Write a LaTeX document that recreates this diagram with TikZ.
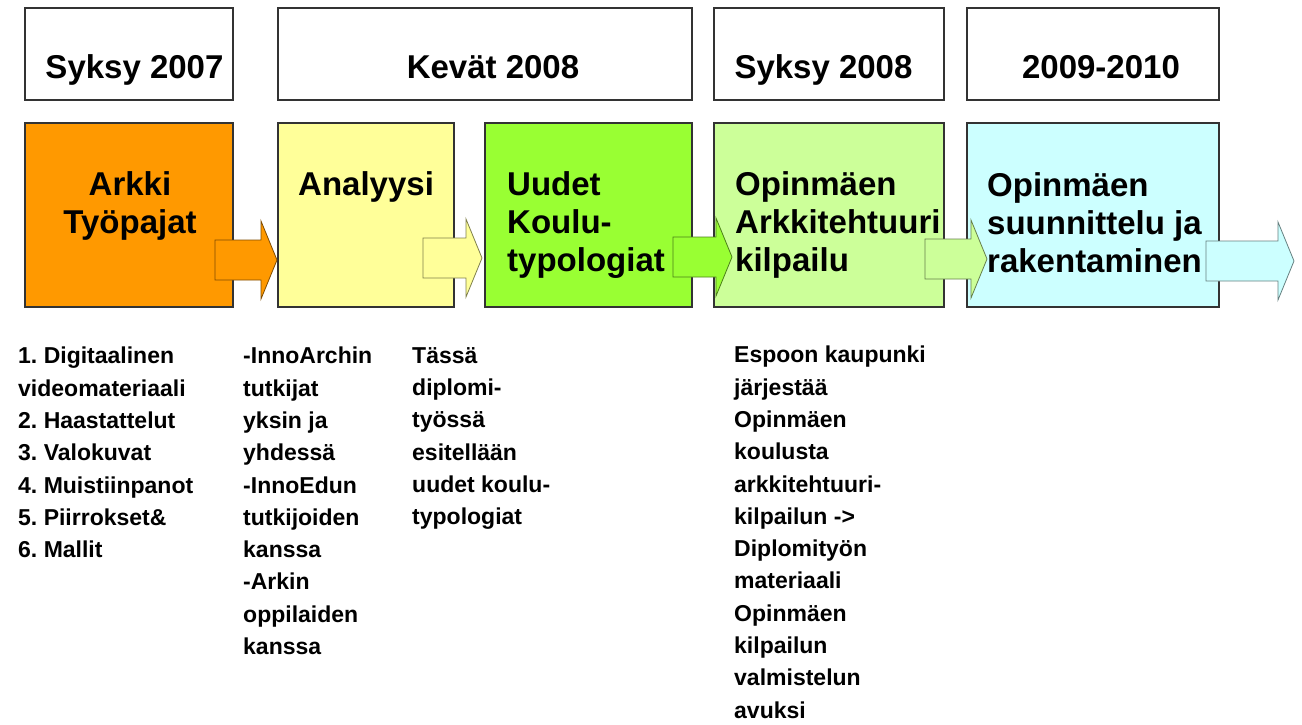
\documentclass[tikz,border=0pt]{standalone}
\usepackage{fontspec}
\setmainfont{Liberation Sans}
\usetikzlibrary{calc}
\frenchspacing
\definecolor{arkki}{HTML}{FF9900}
\definecolor{analyysi}{HTML}{FFFF99}
\definecolor{uudet}{HTML}{99FF33}
\definecolor{kilpailu}{HTML}{CCFF99}
\definecolor{rakennus}{HTML}{CCFFFF}
\definecolor{frame}{rgb}{0.2,0.2,0.2}
\newcommand{\flowarrow}[3]{\draw[flow, fill=#3, draw=#3!50!black] let \p1=(#1), \p2=(#2) in (\x1,\y1+20pt) -- (\x2-16pt,\y1+20pt) -- (\x2-16pt,\y1+39pt) -- (\x2,\y1) -- (\x2-16pt,\y1-39pt) -- (\x2-16pt,\y1-20pt) -- (\x1,\y1-20pt) -- cycle;}

\begin{document}
\begin{tikzpicture}[x=1pt, y=-1pt, period/.style = {shape=rectangle, draw=frame, line width=1.6pt, fill=white, inner sep=0pt, minimum height=92pt}, phase/.style = {shape=rectangle, draw=frame, line width=1.6pt, inner sep=0pt, minimum height=184pt}, flow/.style = {line width=0.8pt, line join=miter}, heading/.style = {anchor=base, inner sep=0pt, font=\bfseries\fontsize{33}{38}\selectfont}, phasetext/.style = {anchor=north west, inner sep=0pt, align=left, font=\bfseries\fontsize{33}{38}\selectfont}, notes/.style = {anchor=north west, inner sep=0pt, align=left, font=\bfseries\fontsize{23}{32.3}\selectfont}]
	\useasboundingbox (0,0) rectangle (1302,724);
	\node[period, minimum width=208pt] (syksy7) at (129,54) {};
	\node[period, minimum width=414pt] (kevat8) at (485,54) {};
	\node[period, minimum width=230pt] (syksy8) at (829,54) {};
	\node[period, minimum width=252pt] (vuodet) at (1093,54) {};
	\node[heading] (syksy7Text) at (134.5,78) {Syksy 2007};
	\node[heading] (kevat8Text) at (493,78) {Kevät 2008};
	\node[heading] (syksy8Text) at (823.5,78) {Syksy 2008};
	\node[heading] (vuodetText) at (1101,78) {2009-2010};
	\node[phase, fill=arkki, minimum width=208pt] (arkki) at (129,215) {};
	\node[phase, fill=analyysi, minimum width=176pt] (analyysi) at (366,215) {};
	\node[phase, fill=uudet, minimum width=207pt] (uudet) at (588.5,215) {};
	\node[phase, fill=kilpailu, minimum width=230pt] (kilpailu) at (829,215) {};
	\node[phase, fill=rakennus, minimum width=252pt] (rakennus) at (1093,215) {};
	\coordinate (tailA) at (215,260);
	\coordinate (tipA) at (277,260);
	\coordinate (tailB) at (423,258);
	\coordinate (tipB) at (482,258);
	\coordinate (tailC) at (673,257);
	\coordinate (tipC) at (732,257);
	\coordinate (tailD) at (925,259);
	\coordinate (tipD) at (987,259);
	\coordinate (tailE) at (1206,261);
	\coordinate (tipE) at (1294,261);
	\flowarrow{tailA}{tipA}{arkki}
	\flowarrow{tailB}{tipB}{analyysi}
	\flowarrow{tailC}{tipC}{uudet}
	\flowarrow{tailD}{tipD}{kilpailu}
	\flowarrow{tailE}{tipE}{rakennus}
	\node[phasetext, anchor=north, align=center] (arkkiText) at (130,171) {Arkki\\Työpajat};
	\node[phasetext] (analyysiText) at (298,171) {Analyysi};
	\node[phasetext] (uudetText) at (507,171) {Uudet\\Koulu-\\typologiat};
	\node[phasetext] (kilpailuText) at (735,171) {Opinmäen\\Arkkitehtuuri\\kilpailu};
	\node[phasetext] (rakennusText) at (987,172) {Opinmäen\\suunnittelu ja\\rakentaminen};
	\node[notes] (arkkiNotes) at (18,347) {1. Digitaalinen\\videomateriaali\\2. Haastattelut\\3. Valokuvat\\4. Muistiinpanot\\5. Piirrokset\&\\6. Mallit};
	\node[notes] (analyysiNotes) at (243,347) {-InnoArchin\\tutkijat\\yksin ja\\yhdessä\\-InnoEdun\\tutkijoiden\\kanssa\\-Arkin\\oppilaiden\\kanssa};
	\node[notes] (uudetNotes) at (412,347) {Tässä\\diplomi-\\työssä\\esitellään\\uudet koulu-\\typologiat};
	\node[notes] (kilpailuNotes) at (734,346) {Espoon kaupunki\\järjestää\\Opinmäen\\koulusta\\arkkitehtuuri-\\kilpailun ->\\Diplomityön\\materiaali\\Opinmäen\\kilpailun\\valmistelun\\avuksi};
\end{tikzpicture}
\end{document}
